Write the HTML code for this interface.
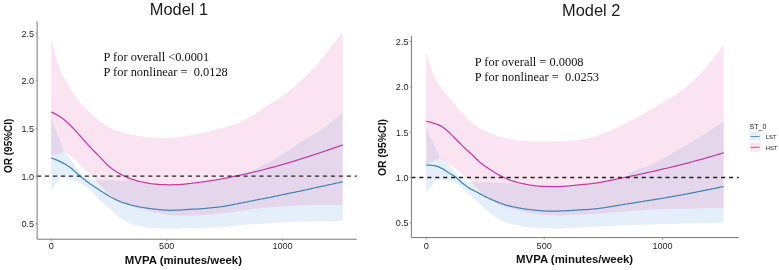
<!DOCTYPE html>
<html><head><meta charset="utf-8"><title>Model 1 / Model 2</title>
<style>
html,body{margin:0;padding:0;background:#fff;}
body{width:779px;height:270px;overflow:hidden;}
svg{display:block;will-change:transform;}
text{font-family:"Liberation Sans",sans-serif;fill:#222;}
.tk{font-size:9.1px;fill:#2a2a2a;}
.title{font-size:16.4px;fill:#1a1a1a;}
.ann{font-family:"Liberation Serif",serif;font-size:12.4px;fill:#111;}
.axl{font-size:11.4px;font-weight:bold;fill:#111;}
.ayl{font-size:10px;font-weight:bold;fill:#111;}
.lgt{font-size:7px;fill:#222;}
.lgl{font-size:5.8px;fill:#222;}
</style></head><body>
<svg width="779" height="270" viewBox="0 0 779 270">
<rect width="779" height="270" fill="#fff"/>
<!-- left -->
<path d="M51.2,118.3 L52.2,120.9 L53.2,123.5 L54.2,126.1 L55.2,128.7 L56.2,131.3 L57.2,134.0 L58.2,136.6 L59.2,139.2 L60.2,141.8 L61.2,144.4 L62.2,147.0 L63.2,149.6 L64.0,151.7 L64.0,151.7 L65.0,152.6 L66.0,153.7 L67.0,154.7 L68.0,155.9 L69.0,157.1 L70.0,158.3 L71.0,159.7 L72.0,161.1 L73.0,162.7 L74.0,164.3 L75.0,165.9 L76.0,167.4 L77.0,168.7 L78.0,170.0 L79.0,171.3 L80.0,172.6 L81.0,173.7 L82.0,174.8 L83.0,175.6 L84.0,176.2 L85.0,176.8 L86.0,177.3 L87.0,177.8 L88.0,178.2 L89.0,178.5 L90.0,178.8 L91.0,179.0 L92.0,179.3 L93.0,179.5 L94.0,179.7 L95.0,179.8 L96.0,179.9 L97.0,180.0 L98.0,180.1 L99.0,180.2 L100.0,180.2 L101.0,180.3 L102.0,180.3 L103.0,180.4 L104.0,180.4 L105.0,180.5 L106.0,180.5 L107.0,180.5 L108.0,180.6 L109.0,180.6 L110.0,180.6 L111.0,180.6 L112.0,180.6 L113.0,180.6 L114.0,180.6 L115.0,180.7 L116.0,180.7 L117.0,180.7 L118.0,180.7 L119.0,180.7 L120.0,180.7 L121.0,180.7 L122.0,180.7 L123.0,180.7 L124.0,180.7 L125.0,180.7 L126.0,180.7 L127.0,180.7 L128.0,180.7 L129.0,180.7 L130.0,180.7 L131.0,180.7 L132.0,180.7 L133.0,180.7 L134.0,180.7 L135.0,180.7 L136.0,180.7 L137.0,180.7 L138.0,181.0 L139.0,181.3 L140.0,181.5 L141.0,181.7 L142.0,182.0 L143.0,182.2 L144.0,182.4 L145.0,182.6 L146.0,182.8 L147.0,183.0 L148.0,183.2 L149.0,183.4 L150.0,183.5 L151.0,183.6 L152.0,183.8 L153.0,183.9 L154.0,184.0 L155.0,184.1 L156.0,184.2 L157.0,184.3 L158.0,184.4 L159.0,184.4 L160.0,184.5 L161.0,184.5 L162.0,184.6 L163.0,184.6 L164.0,184.7 L165.0,184.7 L166.0,184.7 L167.0,184.8 L168.0,184.8 L169.0,184.8 L170.0,184.8 L171.0,184.8 L172.0,184.8 L173.0,184.8 L174.0,184.7 L175.0,184.7 L176.0,184.7 L177.0,184.6 L178.0,184.6 L179.0,184.5 L180.0,184.5 L181.0,184.4 L182.0,184.4 L183.0,184.3 L184.0,184.2 L185.0,184.1 L186.0,184.0 L187.0,183.9 L188.0,183.7 L189.0,183.6 L190.0,183.5 L191.0,183.4 L192.0,183.3 L193.0,183.1 L194.0,183.0 L195.0,182.9 L196.0,182.7 L197.0,182.6 L198.0,182.5 L199.0,182.3 L200.0,182.2 L201.0,182.1 L202.0,181.9 L203.0,181.8 L204.0,181.7 L205.0,181.5 L206.0,181.4 L207.0,181.2 L208.0,181.1 L209.0,180.9 L210.0,180.8 L211.0,180.7 L212.0,180.5 L213.0,180.3 L214.0,180.2 L215.0,180.0 L216.0,179.9 L217.0,179.8 L218.0,179.7 L219.0,179.7 L220.0,179.6 L221.0,179.5 L222.0,179.4 L223.0,179.3 L224.0,179.2 L225.0,179.0 L226.0,178.8 L227.0,178.6 L228.0,178.4 L229.0,178.2 L230.0,178.0 L231.0,177.7 L232.0,177.5 L233.0,177.2 L234.0,177.0 L235.0,176.7 L236.0,176.5 L237.0,176.2 L238.0,176.0 L239.0,175.7 L240.0,175.4 L241.0,175.1 L242.0,174.7 L243.0,174.5 L244.0,174.3 L245.0,174.1 L246.0,173.8 L247.0,173.6 L248.0,173.4 L249.0,173.2 L250.0,173.0 L251.0,172.7 L252.0,172.5 L253.0,170.3 L254.0,169.8 L255.0,169.3 L256.0,168.8 L257.0,168.3 L258.0,167.8 L259.0,167.2 L260.0,166.7 L261.0,166.2 L262.0,165.7 L263.0,165.2 L264.0,164.7 L265.0,164.2 L266.0,163.7 L267.0,163.2 L268.0,162.7 L269.0,162.2 L270.0,161.7 L271.0,161.2 L272.0,160.7 L273.0,160.2 L274.0,159.7 L275.0,159.1 L276.0,158.6 L277.0,158.0 L278.0,157.4 L279.0,156.8 L280.0,156.2 L281.0,155.6 L282.0,155.0 L283.0,154.4 L284.0,153.7 L285.0,153.1 L286.0,152.4 L287.0,151.8 L288.0,151.1 L289.0,150.4 L290.0,149.7 L291.0,149.0 L292.0,148.3 L293.0,147.6 L294.0,146.8 L295.0,146.0 L296.0,145.2 L297.0,144.4 L298.0,143.6 L299.0,142.9 L300.0,142.2 L301.0,141.6 L302.0,140.9 L303.0,140.4 L304.0,139.8 L305.0,139.3 L306.0,138.7 L307.0,138.2 L308.0,137.7 L309.0,137.2 L310.0,136.6 L311.0,136.1 L312.0,135.5 L313.0,135.0 L314.0,134.4 L315.0,133.8 L316.0,133.1 L317.0,132.5 L318.0,131.8 L319.0,131.2 L320.0,130.5 L321.0,129.8 L322.0,129.1 L323.0,128.4 L324.0,127.7 L325.0,127.0 L326.0,126.2 L327.0,125.5 L328.0,124.7 L329.0,124.0 L330.0,123.2 L331.0,122.4 L332.0,121.6 L333.0,120.8 L334.0,120.0 L335.0,119.1 L336.0,118.3 L337.0,117.4 L338.0,116.5 L339.0,115.7 L340.0,114.8 L341.0,113.9 L342.0,112.9 L342.7,112.3 L342.7,220.8 L342.5,220.8 L341.5,220.8 L340.5,220.8 L339.5,220.9 L338.5,220.9 L337.5,220.9 L336.5,220.9 L335.5,220.9 L334.5,220.9 L333.5,221.0 L332.5,221.0 L331.5,221.0 L330.5,221.0 L329.5,221.0 L328.5,221.0 L327.5,221.1 L326.5,221.1 L325.5,221.1 L324.5,221.1 L323.5,221.1 L322.5,221.2 L321.5,221.2 L320.5,221.2 L319.5,221.2 L318.5,221.2 L317.5,221.2 L316.5,221.3 L315.5,221.3 L314.5,221.3 L313.5,221.3 L312.5,221.3 L311.5,221.3 L310.5,221.4 L309.5,221.4 L308.5,221.4 L307.5,221.4 L306.5,221.4 L305.5,221.4 L304.5,221.5 L303.5,221.5 L302.5,221.5 L301.5,221.6 L300.5,221.6 L299.5,221.6 L298.5,221.7 L297.5,221.7 L296.5,221.7 L295.5,221.8 L294.5,221.8 L293.5,221.9 L292.5,221.9 L291.5,222.0 L290.5,222.0 L289.5,222.1 L288.5,222.1 L287.5,222.2 L286.5,222.2 L285.5,222.3 L284.5,222.3 L283.5,222.4 L282.5,222.4 L281.5,222.5 L280.5,222.5 L279.5,222.6 L278.5,222.7 L277.5,222.7 L276.5,222.8 L275.5,222.9 L274.5,222.9 L273.5,223.0 L272.5,223.0 L271.5,223.1 L270.5,223.2 L269.5,223.2 L268.5,223.3 L267.5,223.3 L266.5,223.4 L265.5,223.5 L264.5,223.5 L263.5,223.6 L262.5,223.6 L261.5,223.7 L260.5,223.8 L259.5,223.8 L258.5,223.9 L257.5,223.9 L256.5,224.0 L255.5,224.1 L254.5,224.1 L253.5,224.2 L252.5,224.3 L251.5,224.3 L250.5,224.4 L249.5,224.5 L248.5,224.5 L247.5,224.6 L246.5,224.7 L245.5,224.8 L244.5,224.8 L243.5,224.9 L242.5,225.0 L241.5,225.1 L240.5,225.2 L239.5,225.3 L238.5,225.3 L237.5,225.4 L236.5,225.5 L235.5,225.6 L234.5,225.7 L233.5,225.8 L232.5,225.9 L231.5,226.0 L230.5,226.2 L229.5,226.3 L228.5,226.4 L227.5,226.5 L226.5,226.6 L225.5,226.7 L224.5,226.8 L223.5,226.9 L222.5,227.0 L221.5,227.1 L220.5,227.2 L219.5,227.2 L218.5,227.3 L217.5,227.3 L216.5,227.4 L215.5,227.5 L214.5,227.5 L213.5,227.6 L212.5,227.6 L211.5,227.6 L210.5,227.7 L209.5,227.7 L208.5,227.7 L207.5,227.8 L206.5,227.8 L205.5,227.8 L204.5,227.9 L203.5,227.9 L202.5,227.9 L201.5,227.9 L200.5,227.9 L199.5,227.9 L198.5,227.9 L197.5,228.0 L196.5,228.0 L195.5,228.0 L194.5,228.0 L193.5,228.0 L192.5,228.0 L191.5,228.1 L190.5,228.1 L189.5,228.1 L188.5,228.1 L187.5,228.2 L186.5,228.2 L185.5,228.3 L184.5,228.3 L183.5,228.4 L182.5,228.5 L181.5,228.5 L180.5,228.6 L179.5,228.6 L178.5,228.7 L177.5,228.7 L176.5,228.7 L175.5,228.8 L174.5,228.8 L173.5,228.8 L172.5,228.8 L171.5,228.8 L170.5,228.8 L169.5,228.8 L168.5,228.7 L167.5,228.7 L166.5,228.7 L165.5,228.6 L164.5,228.6 L163.5,228.5 L162.5,228.5 L161.5,228.5 L160.5,228.4 L159.5,228.4 L158.5,228.3 L157.5,228.3 L156.5,228.2 L155.5,228.2 L154.5,228.1 L153.5,228.1 L152.5,228.0 L151.5,227.9 L150.5,227.8 L149.5,227.8 L148.5,227.6 L147.5,227.5 L146.5,227.4 L145.5,227.2 L144.5,227.0 L143.5,226.8 L142.5,226.6 L141.5,226.4 L140.5,226.2 L139.5,226.0 L138.5,225.8 L137.5,225.6 L136.5,225.3 L135.5,225.1 L134.5,224.8 L133.5,224.5 L132.5,224.2 L131.5,223.9 L130.5,223.6 L129.5,223.2 L128.5,222.8 L127.5,222.4 L126.5,221.9 L125.5,221.4 L124.5,220.8 L123.5,220.2 L122.5,219.6 L121.5,219.0 L120.5,218.3 L119.5,217.6 L118.5,216.8 L117.5,216.0 L116.5,215.0 L115.5,214.1 L114.5,213.1 L113.5,212.2 L112.5,211.3 L111.5,210.4 L110.5,209.6 L109.5,208.7 L108.5,207.9 L107.5,207.0 L106.5,206.1 L105.5,205.2 L104.5,204.3 L103.5,203.5 L102.5,202.6 L101.5,201.6 L100.5,200.7 L99.5,199.8 L98.5,198.8 L97.5,197.8 L96.5,196.7 L95.5,195.5 L94.5,194.4 L93.5,193.2 L92.5,192.1 L91.5,191.0 L90.5,190.1 L89.5,189.3 L88.5,188.6 L87.5,187.9 L86.5,187.2 L85.5,186.6 L84.5,186.0 L83.5,185.4 L82.5,184.8 L81.5,184.3 L80.5,183.8 L79.5,183.2 L78.5,182.7 L77.5,182.3 L76.5,181.8 L75.5,181.4 L74.5,181.0 L73.5,180.6 L72.5,180.2 L71.5,179.8 L70.5,179.5 L69.5,179.2 L68.5,178.8 L67.5,178.6 L66.5,178.3 L65.5,178.1 L64.5,177.9 L63.5,177.7 L62.5,177.6 L61.5,177.4 L60.5,177.3 L60.5,177.3 L60.2,177.7 L59.2,179.1 L58.2,180.4 L57.2,181.8 L56.2,183.2 L55.2,184.5 L54.2,185.9 L53.2,187.3 L52.2,188.6 L51.2,190.0Z" fill="#2f82cd" fill-opacity="0.125"/>
<path d="M51.2,36.7 L52.2,41.7 L53.2,46.3 L54.2,50.5 L55.2,54.5 L56.2,58.1 L57.2,61.6 L58.2,64.7 L59.2,67.4 L60.2,69.9 L61.2,72.3 L62.2,74.4 L63.2,76.4 L64.2,78.2 L65.2,79.9 L66.2,81.6 L67.2,83.2 L68.2,84.8 L69.2,86.5 L70.2,88.2 L71.2,89.9 L72.2,91.5 L73.2,93.1 L74.2,94.6 L75.2,96.1 L76.2,97.4 L77.2,98.8 L78.2,100.1 L79.2,101.3 L80.2,102.5 L81.2,103.7 L82.2,104.8 L83.2,105.9 L84.2,107.0 L85.2,108.0 L86.2,109.0 L87.2,109.9 L88.2,110.9 L89.2,111.8 L90.2,112.7 L91.2,113.6 L92.2,114.5 L93.2,115.3 L94.2,116.2 L95.2,117.1 L96.2,117.9 L97.2,118.7 L98.2,119.6 L99.2,120.4 L100.2,121.2 L101.2,122.0 L102.2,122.8 L103.2,123.6 L104.2,124.3 L105.2,125.0 L106.2,125.7 L107.2,126.3 L108.2,126.9 L109.2,127.4 L110.2,127.9 L111.2,128.4 L112.2,128.9 L113.2,129.3 L114.2,129.8 L115.2,130.2 L116.2,130.5 L117.2,130.9 L118.2,131.2 L119.2,131.5 L120.2,131.8 L121.2,132.1 L122.2,132.4 L123.2,132.7 L124.2,133.0 L125.2,133.2 L126.2,133.5 L127.2,133.7 L128.2,134.0 L129.2,134.2 L130.2,134.4 L131.2,134.6 L132.2,134.8 L133.2,135.0 L134.2,135.2 L135.2,135.3 L136.2,135.5 L137.2,135.7 L138.2,135.9 L139.2,136.0 L140.2,136.2 L141.2,136.4 L142.2,136.5 L143.2,136.6 L144.2,136.8 L145.2,136.9 L146.2,137.0 L147.2,137.1 L148.2,137.2 L149.2,137.3 L150.2,137.3 L151.2,137.4 L152.2,137.4 L153.2,137.5 L154.2,137.5 L155.2,137.5 L156.2,137.6 L157.2,137.6 L158.2,137.6 L159.2,137.7 L160.2,137.7 L161.2,137.7 L162.2,137.8 L163.2,137.8 L164.2,137.8 L165.2,137.8 L166.2,137.8 L167.2,137.8 L168.2,137.8 L169.2,137.8 L170.2,137.7 L171.2,137.7 L172.2,137.6 L173.2,137.5 L174.2,137.5 L175.2,137.4 L176.2,137.3 L177.2,137.2 L178.2,137.1 L179.2,137.0 L180.2,136.8 L181.2,136.7 L182.2,136.6 L183.2,136.5 L184.2,136.4 L185.2,136.3 L186.2,136.1 L187.2,136.0 L188.2,135.8 L189.2,135.6 L190.2,135.4 L191.2,135.2 L192.2,135.0 L193.2,134.8 L194.2,134.6 L195.2,134.4 L196.2,134.1 L197.2,133.9 L198.2,133.7 L199.2,133.5 L200.2,133.3 L201.2,133.0 L202.2,132.8 L203.2,132.6 L204.2,132.4 L205.2,132.1 L206.2,131.9 L207.2,131.7 L208.2,131.4 L209.2,131.2 L210.2,130.9 L211.2,130.7 L212.2,130.4 L213.2,130.2 L214.2,129.9 L215.2,129.7 L216.2,129.4 L217.2,129.2 L218.2,128.9 L219.2,128.7 L220.2,128.4 L221.2,128.2 L222.2,127.9 L223.2,127.6 L224.2,127.4 L225.2,127.1 L226.2,126.8 L227.2,126.5 L228.2,126.2 L229.2,125.9 L230.2,125.6 L231.2,125.3 L232.2,125.0 L233.2,124.6 L234.2,124.3 L235.2,123.9 L236.2,123.5 L237.2,123.1 L238.2,122.7 L239.2,122.2 L240.2,121.8 L241.2,121.3 L242.2,120.9 L243.2,120.4 L244.2,119.9 L245.2,119.4 L246.2,118.9 L247.2,118.3 L248.2,117.8 L249.2,117.3 L250.2,116.7 L251.2,116.2 L252.2,115.6 L253.2,115.1 L254.2,114.5 L255.2,113.9 L256.2,113.3 L257.2,112.6 L258.2,112.0 L259.2,111.3 L260.2,110.6 L261.2,109.9 L262.2,109.2 L263.2,108.5 L264.2,107.8 L265.2,107.2 L266.2,106.5 L267.2,105.8 L268.2,105.1 L269.2,104.5 L270.2,103.9 L271.2,103.3 L272.2,102.7 L273.2,102.1 L274.2,101.5 L275.2,100.9 L276.2,100.3 L277.2,99.7 L278.2,99.0 L279.2,98.3 L280.2,97.6 L281.2,96.9 L282.2,96.1 L283.2,95.4 L284.2,94.6 L285.2,93.8 L286.2,93.0 L287.2,92.3 L288.2,91.5 L289.2,90.6 L290.2,89.8 L291.2,89.0 L292.2,88.2 L293.2,87.3 L294.2,86.5 L295.2,85.6 L296.2,84.7 L297.2,83.9 L298.2,83.0 L299.2,82.1 L300.2,81.2 L301.2,80.2 L302.2,79.3 L303.2,78.4 L304.2,77.5 L305.2,76.5 L306.2,75.6 L307.2,74.6 L308.2,73.7 L309.2,72.7 L310.2,71.7 L311.2,70.8 L312.2,69.8 L313.2,68.7 L314.2,67.7 L315.2,66.6 L316.2,65.6 L317.2,64.4 L318.2,63.3 L319.2,62.1 L320.2,60.9 L321.2,59.7 L322.2,58.4 L323.2,57.2 L324.2,55.9 L325.2,54.6 L326.2,53.3 L327.2,52.0 L328.2,50.7 L329.2,49.3 L330.2,48.0 L331.2,46.7 L332.2,45.4 L333.2,44.1 L334.2,42.7 L335.2,41.4 L336.2,40.0 L337.2,38.7 L338.2,37.3 L339.2,35.9 L340.2,34.5 L341.2,33.1 L342.2,31.7 L342.7,31.0 L342.7,205.0 L342.0,205.0 L341.0,205.0 L340.0,205.0 L339.0,205.0 L338.0,205.0 L337.0,205.0 L336.0,205.0 L335.0,205.0 L334.0,205.0 L333.0,205.0 L332.0,205.0 L331.0,205.0 L330.0,205.0 L329.0,205.0 L328.0,205.0 L327.0,205.0 L326.0,205.0 L325.0,205.0 L324.0,205.0 L323.0,205.0 L322.0,205.0 L321.0,205.0 L320.0,205.0 L319.0,205.0 L318.0,205.0 L317.0,205.0 L316.0,205.0 L315.0,205.0 L314.0,205.1 L313.0,205.1 L312.0,205.1 L311.0,205.1 L310.0,205.1 L309.0,205.2 L308.0,205.2 L307.0,205.2 L306.0,205.2 L305.0,205.3 L304.0,205.3 L303.0,205.3 L302.0,205.3 L301.0,205.4 L300.0,205.4 L299.0,205.4 L298.0,205.5 L297.0,205.5 L296.0,205.5 L295.0,205.6 L294.0,205.6 L293.0,205.7 L292.0,205.7 L291.0,205.8 L290.0,205.8 L289.0,205.9 L288.0,205.9 L287.0,206.0 L286.0,206.0 L285.0,206.1 L284.0,206.2 L283.0,206.2 L282.0,206.3 L281.0,206.4 L280.0,206.4 L279.0,206.5 L278.0,206.6 L277.0,206.7 L276.0,206.8 L275.0,206.9 L274.0,206.9 L273.0,207.0 L272.0,207.1 L271.0,207.2 L270.0,207.3 L269.0,207.4 L268.0,207.5 L267.0,207.6 L266.0,207.7 L265.0,207.8 L264.0,207.9 L263.0,207.9 L262.0,208.0 L261.0,208.1 L260.0,208.2 L259.0,208.4 L258.0,208.5 L257.0,208.6 L256.0,208.7 L255.0,208.8 L254.0,208.9 L253.0,209.0 L252.0,209.2 L251.0,209.3 L250.0,209.4 L249.0,209.6 L248.0,209.7 L247.0,209.9 L246.0,210.1 L245.0,210.2 L244.0,210.4 L243.0,210.5 L242.0,210.7 L241.0,210.9 L240.0,211.0 L239.0,211.2 L238.0,211.3 L237.0,211.5 L236.0,211.6 L235.0,211.7 L234.0,211.9 L233.0,212.0 L232.0,212.1 L231.0,212.2 L230.0,212.4 L229.0,212.5 L228.0,212.6 L227.0,212.7 L226.0,212.8 L225.0,213.0 L224.0,213.1 L223.0,213.2 L222.0,213.3 L221.0,213.4 L220.0,213.5 L219.0,213.6 L218.0,213.7 L217.0,213.8 L216.0,213.9 L215.0,214.0 L214.0,214.1 L213.0,214.2 L212.0,214.3 L211.0,214.4 L210.0,214.5 L209.0,214.5 L208.0,214.6 L207.0,214.7 L206.0,214.7 L205.0,214.8 L204.0,214.9 L203.0,215.0 L202.0,215.0 L201.0,215.1 L200.0,215.2 L199.0,215.2 L198.0,215.3 L197.0,215.4 L196.0,215.4 L195.0,215.5 L194.0,215.5 L193.0,215.6 L192.0,215.6 L191.0,215.6 L190.0,215.6 L189.0,215.6 L188.0,215.6 L187.0,215.6 L186.0,215.6 L185.0,215.6 L184.0,215.6 L183.0,215.5 L182.0,215.5 L181.0,215.5 L180.0,215.5 L179.0,215.5 L178.0,215.4 L177.0,215.4 L176.0,215.4 L175.0,215.4 L174.0,215.3 L173.0,215.3 L172.0,215.2 L171.0,215.2 L170.0,215.1 L169.0,215.0 L168.0,214.8 L167.0,214.7 L166.0,214.5 L165.0,214.4 L164.0,214.2 L163.0,214.0 L162.0,213.8 L161.0,213.7 L160.0,213.5 L159.0,213.3 L158.0,213.1 L157.0,212.9 L156.0,212.7 L155.0,212.5 L154.0,212.3 L153.0,212.0 L152.0,211.8 L151.0,211.5 L150.0,211.3 L149.0,211.1 L148.0,210.8 L147.0,210.6 L146.0,210.3 L145.0,210.1 L144.0,209.8 L143.0,209.5 L142.0,209.3 L141.0,209.0 L140.0,208.7 L139.0,208.4 L138.0,208.1 L137.0,207.9 L136.0,207.6 L135.0,207.3 L134.0,207.0 L133.0,206.6 L132.0,206.3 L131.0,206.0 L130.0,205.6 L129.0,205.2 L128.0,204.9 L127.0,204.5 L126.0,204.1 L125.0,203.7 L124.0,203.2 L123.0,202.8 L122.0,202.3 L121.0,201.8 L120.0,201.3 L119.0,200.8 L118.0,200.2 L117.0,199.6 L116.0,199.0 L115.0,198.4 L114.0,197.7 L113.0,197.0 L112.0,196.3 L111.0,195.6 L110.0,194.8 L109.0,193.9 L108.0,193.1 L107.0,192.3 L106.0,191.4 L105.0,190.5 L104.0,189.6 L103.0,188.6 L102.0,187.6 L101.0,186.6 L100.0,185.5 L99.0,184.3 L98.0,182.9 L97.0,181.5 L96.0,180.2 L95.0,179.0 L94.0,177.9 L93.0,176.9 L92.0,176.0 L91.0,175.1 L90.0,174.2 L89.0,173.3 L88.0,172.5 L87.0,171.6 L86.0,170.7 L85.0,169.9 L84.0,169.0 L83.0,168.0 L82.0,167.0 L81.0,166.0 L80.0,164.9 L79.0,163.9 L78.0,162.8 L77.0,161.8 L76.0,160.8 L75.0,159.8 L74.0,158.9 L73.0,158.1 L72.0,157.2 L71.0,156.5 L70.0,155.7 L69.0,155.0 L68.0,154.2 L67.0,153.6 L66.0,152.9 L65.0,152.3 L64.0,151.7 L64.0,151.7 L63.2,152.0 L62.2,152.3 L61.2,152.6 L60.2,153.0 L59.2,153.3 L58.2,153.6 L57.2,154.0 L56.2,154.3 L55.2,154.7 L54.2,155.0 L53.2,155.3 L52.2,155.7 L51.2,156.0Z" fill="#de3793" fill-opacity="0.135"/>
<path d="M51.2,158.0 L52.2,158.3 L53.2,158.6 L54.2,159.0 L55.2,159.4 L56.2,159.8 L57.2,160.2 L58.2,160.6 L59.2,161.1 L60.2,161.6 L61.2,162.1 L62.2,162.6 L63.2,163.1 L64.2,163.6 L65.2,164.2 L66.2,164.8 L67.2,165.5 L68.2,166.1 L69.2,166.8 L70.2,167.5 L71.2,168.3 L72.2,169.1 L73.2,170.0 L74.2,170.9 L75.2,171.8 L76.2,172.7 L77.2,173.6 L78.2,174.4 L79.2,175.2 L80.2,176.1 L81.2,176.9 L82.2,177.7 L83.2,178.5 L84.2,179.4 L85.2,180.1 L86.2,180.9 L87.2,181.7 L88.2,182.4 L89.2,183.1 L90.2,183.9 L91.2,184.6 L92.2,185.2 L93.2,185.9 L94.2,186.6 L95.2,187.3 L96.2,187.9 L97.2,188.6 L98.2,189.2 L99.2,189.9 L100.2,190.5 L101.2,191.2 L102.2,191.8 L103.2,192.5 L104.2,193.1 L105.2,193.7 L106.2,194.4 L107.2,195.0 L108.2,195.6 L109.2,196.2 L110.2,196.7 L111.2,197.3 L112.2,197.8 L113.2,198.3 L114.2,198.8 L115.2,199.4 L116.2,199.8 L117.2,200.3 L118.2,200.8 L119.2,201.2 L120.2,201.6 L121.2,202.0 L122.2,202.3 L123.2,202.7 L124.2,203.0 L125.2,203.3 L126.2,203.6 L127.2,203.9 L128.2,204.2 L129.2,204.5 L130.2,204.8 L131.2,205.0 L132.2,205.3 L133.2,205.5 L134.2,205.8 L135.2,206.0 L136.2,206.2 L137.2,206.4 L138.2,206.7 L139.2,206.9 L140.2,207.0 L141.2,207.2 L142.2,207.4 L143.2,207.5 L144.2,207.7 L145.2,207.8 L146.2,208.0 L147.2,208.1 L148.2,208.3 L149.2,208.4 L150.2,208.5 L151.2,208.7 L152.2,208.8 L153.2,208.9 L154.2,209.1 L155.2,209.2 L156.2,209.3 L157.2,209.4 L158.2,209.5 L159.2,209.6 L160.2,209.7 L161.2,209.8 L162.2,209.9 L163.2,210.0 L164.2,210.0 L165.2,210.1 L166.2,210.2 L167.2,210.2 L168.2,210.3 L169.2,210.3 L170.2,210.3 L171.2,210.3 L172.2,210.3 L173.2,210.3 L174.2,210.2 L175.2,210.2 L176.2,210.2 L177.2,210.1 L178.2,210.1 L179.2,210.0 L180.2,210.0 L181.2,209.9 L182.2,209.9 L183.2,209.8 L184.2,209.7 L185.2,209.6 L186.2,209.6 L187.2,209.5 L188.2,209.4 L189.2,209.3 L190.2,209.3 L191.2,209.2 L192.2,209.2 L193.2,209.2 L194.2,209.1 L195.2,209.1 L196.2,209.1 L197.2,209.0 L198.2,209.0 L199.2,208.9 L200.2,208.9 L201.2,208.8 L202.2,208.7 L203.2,208.6 L204.2,208.5 L205.2,208.4 L206.2,208.3 L207.2,208.2 L208.2,208.1 L209.2,208.0 L210.2,207.9 L211.2,207.8 L212.2,207.7 L213.2,207.6 L214.2,207.5 L215.2,207.4 L216.2,207.3 L217.2,207.2 L218.2,207.1 L219.2,207.0 L220.2,206.9 L221.2,206.7 L222.2,206.6 L223.2,206.4 L224.2,206.3 L225.2,206.1 L226.2,205.9 L227.2,205.7 L228.2,205.6 L229.2,205.4 L230.2,205.2 L231.2,205.0 L232.2,204.8 L233.2,204.6 L234.2,204.4 L235.2,204.2 L236.2,204.0 L237.2,203.8 L238.2,203.6 L239.2,203.4 L240.2,203.2 L241.2,203.0 L242.2,202.8 L243.2,202.6 L244.2,202.4 L245.2,202.2 L246.2,202.0 L247.2,201.8 L248.2,201.6 L249.2,201.4 L250.2,201.2 L251.2,201.0 L252.2,200.8 L253.2,200.6 L254.2,200.4 L255.2,200.2 L256.2,200.0 L257.2,199.8 L258.2,199.6 L259.2,199.4 L260.2,199.2 L261.2,199.0 L262.2,198.9 L263.2,198.7 L264.2,198.5 L265.2,198.3 L266.2,198.1 L267.2,197.9 L268.2,197.7 L269.2,197.5 L270.2,197.3 L271.2,197.1 L272.2,196.8 L273.2,196.6 L274.2,196.4 L275.2,196.2 L276.2,196.0 L277.2,195.8 L278.2,195.6 L279.2,195.4 L280.2,195.2 L281.2,195.0 L282.2,194.7 L283.2,194.5 L284.2,194.3 L285.2,194.1 L286.2,193.9 L287.2,193.7 L288.2,193.5 L289.2,193.3 L290.2,193.1 L291.2,192.9 L292.2,192.7 L293.2,192.5 L294.2,192.3 L295.2,192.1 L296.2,191.9 L297.2,191.7 L298.2,191.5 L299.2,191.3 L300.2,191.1 L301.2,190.8 L302.2,190.6 L303.2,190.4 L304.2,190.2 L305.2,190.0 L306.2,189.8 L307.2,189.6 L308.2,189.3 L309.2,189.1 L310.2,188.9 L311.2,188.7 L312.2,188.4 L313.2,188.2 L314.2,188.0 L315.2,187.8 L316.2,187.5 L317.2,187.3 L318.2,187.1 L319.2,186.9 L320.2,186.7 L321.2,186.4 L322.2,186.2 L323.2,186.0 L324.2,185.8 L325.2,185.6 L326.2,185.3 L327.2,185.1 L328.2,184.9 L329.2,184.7 L330.2,184.5 L331.2,184.3 L332.2,184.0 L333.2,183.8 L334.2,183.6 L335.2,183.4 L336.2,183.2 L337.2,183.0 L338.2,182.8 L339.2,182.5 L340.2,182.3 L341.2,182.1 L342.2,181.9 L342.7,181.8" fill="none" stroke="#3f86b6" stroke-width="1.25"/>
<path d="M51.2,112.0 L52.2,112.4 L53.2,112.9 L54.2,113.3 L55.2,113.9 L56.2,114.4 L57.2,115.0 L58.2,115.6 L59.2,116.2 L60.2,116.8 L61.2,117.5 L62.2,118.2 L63.2,119.0 L64.2,119.8 L65.2,120.7 L66.2,121.5 L67.2,122.4 L68.2,123.3 L69.2,124.3 L70.2,125.2 L71.2,126.2 L72.2,127.2 L73.2,128.2 L74.2,129.3 L75.2,130.4 L76.2,131.5 L77.2,132.7 L78.2,133.8 L79.2,134.9 L80.2,136.0 L81.2,137.1 L82.2,138.2 L83.2,139.4 L84.2,140.5 L85.2,141.6 L86.2,142.7 L87.2,143.8 L88.2,144.9 L89.2,146.0 L90.2,147.0 L91.2,148.1 L92.2,149.1 L93.2,150.2 L94.2,151.2 L95.2,152.3 L96.2,153.3 L97.2,154.3 L98.2,155.4 L99.2,156.4 L100.2,157.4 L101.2,158.4 L102.2,159.5 L103.2,160.6 L104.2,161.6 L105.2,162.7 L106.2,163.7 L107.2,164.7 L108.2,165.7 L109.2,166.5 L110.2,167.4 L111.2,168.1 L112.2,168.9 L113.2,169.6 L114.2,170.3 L115.2,170.9 L116.2,171.6 L117.2,172.2 L118.2,172.8 L119.2,173.4 L120.2,173.9 L121.2,174.5 L122.2,175.0 L123.2,175.5 L124.2,176.0 L125.2,176.5 L126.2,176.9 L127.2,177.4 L128.2,177.8 L129.2,178.2 L130.2,178.6 L131.2,178.9 L132.2,179.3 L133.2,179.6 L134.2,179.9 L135.2,180.2 L136.2,180.5 L137.2,180.8 L138.2,181.1 L139.2,181.3 L140.2,181.5 L141.2,181.8 L142.2,182.0 L143.2,182.2 L144.2,182.5 L145.2,182.7 L146.2,182.9 L147.2,183.1 L148.2,183.2 L149.2,183.4 L150.2,183.5 L151.2,183.7 L152.2,183.8 L153.2,183.9 L154.2,184.0 L155.2,184.1 L156.2,184.2 L157.2,184.3 L158.2,184.4 L159.2,184.5 L160.2,184.5 L161.2,184.6 L162.2,184.6 L163.2,184.6 L164.2,184.7 L165.2,184.7 L166.2,184.7 L167.2,184.8 L168.2,184.8 L169.2,184.8 L170.2,184.8 L171.2,184.8 L172.2,184.8 L173.2,184.8 L174.2,184.7 L175.2,184.7 L176.2,184.7 L177.2,184.6 L178.2,184.6 L179.2,184.5 L180.2,184.5 L181.2,184.4 L182.2,184.4 L183.2,184.3 L184.2,184.2 L185.2,184.1 L186.2,183.9 L187.2,183.8 L188.2,183.7 L189.2,183.6 L190.2,183.5 L191.2,183.4 L192.2,183.2 L193.2,183.1 L194.2,183.0 L195.2,182.9 L196.2,182.7 L197.2,182.6 L198.2,182.4 L199.2,182.3 L200.2,182.2 L201.2,182.0 L202.2,181.9 L203.2,181.8 L204.2,181.6 L205.2,181.5 L206.2,181.4 L207.2,181.2 L208.2,181.1 L209.2,180.9 L210.2,180.8 L211.2,180.6 L212.2,180.5 L213.2,180.3 L214.2,180.2 L215.2,180.0 L216.2,179.8 L217.2,179.7 L218.2,179.5 L219.2,179.3 L220.2,179.2 L221.2,179.0 L222.2,178.8 L223.2,178.6 L224.2,178.4 L225.2,178.2 L226.2,178.0 L227.2,177.8 L228.2,177.6 L229.2,177.4 L230.2,177.2 L231.2,177.0 L232.2,176.8 L233.2,176.5 L234.2,176.3 L235.2,176.1 L236.2,175.9 L237.2,175.7 L238.2,175.5 L239.2,175.3 L240.2,175.1 L241.2,174.9 L242.2,174.6 L243.2,174.4 L244.2,174.2 L245.2,174.0 L246.2,173.8 L247.2,173.6 L248.2,173.4 L249.2,173.1 L250.2,172.9 L251.2,172.7 L252.2,172.5 L253.2,172.2 L254.2,172.0 L255.2,171.7 L256.2,171.5 L257.2,171.3 L258.2,171.0 L259.2,170.8 L260.2,170.5 L261.2,170.3 L262.2,170.0 L263.2,169.8 L264.2,169.5 L265.2,169.2 L266.2,169.0 L267.2,168.7 L268.2,168.5 L269.2,168.2 L270.2,167.9 L271.2,167.7 L272.2,167.4 L273.2,167.1 L274.2,166.8 L275.2,166.6 L276.2,166.3 L277.2,166.0 L278.2,165.7 L279.2,165.4 L280.2,165.2 L281.2,164.9 L282.2,164.6 L283.2,164.3 L284.2,164.0 L285.2,163.7 L286.2,163.4 L287.2,163.2 L288.2,162.9 L289.2,162.6 L290.2,162.3 L291.2,162.0 L292.2,161.7 L293.2,161.4 L294.2,161.1 L295.2,160.7 L296.2,160.4 L297.2,160.1 L298.2,159.8 L299.2,159.5 L300.2,159.2 L301.2,158.9 L302.2,158.5 L303.2,158.2 L304.2,157.9 L305.2,157.6 L306.2,157.2 L307.2,156.9 L308.2,156.6 L309.2,156.3 L310.2,155.9 L311.2,155.6 L312.2,155.3 L313.2,155.0 L314.2,154.6 L315.2,154.3 L316.2,154.0 L317.2,153.6 L318.2,153.3 L319.2,153.0 L320.2,152.6 L321.2,152.3 L322.2,152.0 L323.2,151.6 L324.2,151.3 L325.2,151.0 L326.2,150.6 L327.2,150.3 L328.2,149.9 L329.2,149.6 L330.2,149.3 L331.2,148.9 L332.2,148.6 L333.2,148.2 L334.2,147.9 L335.2,147.5 L336.2,147.2 L337.2,146.8 L338.2,146.5 L339.2,146.1 L340.2,145.8 L341.2,145.4 L342.2,145.1 L342.7,144.9" fill="none" stroke="#c13aa4" stroke-width="1.25"/>
<line x1="37.1" y1="176.2" x2="356.7" y2="176.2" stroke="#222" stroke-width="1.3" stroke-dasharray="4.1 3.84"/>
<path d="M37.1,21.4 V239.2 H356.7" fill="none" stroke="#777" stroke-width="1"/>
<line x1="35.5" y1="33.3" x2="37.1" y2="33.3" stroke="#777" stroke-width="0.7"/>
<text x="34.1" y="36.699999999999996" text-anchor="end" class="tk">2.5</text>
<line x1="35.5" y1="81" x2="37.1" y2="81" stroke="#777" stroke-width="0.7"/>
<text x="34.1" y="84.4" text-anchor="end" class="tk">2.0</text>
<line x1="35.5" y1="128.7" x2="37.1" y2="128.7" stroke="#777" stroke-width="0.7"/>
<text x="34.1" y="132.1" text-anchor="end" class="tk">1.5</text>
<line x1="35.5" y1="176.2" x2="37.1" y2="176.2" stroke="#777" stroke-width="0.7"/>
<text x="34.1" y="179.6" text-anchor="end" class="tk">1.0</text>
<line x1="35.5" y1="223.7" x2="37.1" y2="223.7" stroke="#777" stroke-width="0.7"/>
<text x="34.1" y="227.1" text-anchor="end" class="tk">0.5</text>
<line x1="51.2" y1="239.2" x2="51.2" y2="241.2" stroke="#777" stroke-width="0.7"/>
<text x="51.2" y="249.39999999999998" text-anchor="middle" class="tk">0</text>
<line x1="166.7" y1="239.2" x2="166.7" y2="241.2" stroke="#777" stroke-width="0.7"/>
<text x="166.7" y="249.39999999999998" text-anchor="middle" class="tk">500</text>
<line x1="282.5" y1="239.2" x2="282.5" y2="241.2" stroke="#777" stroke-width="0.7"/>
<text x="282.5" y="249.39999999999998" text-anchor="middle" class="tk">1000</text>
<text x="179" y="15" text-anchor="middle" class="title">Model 1</text>
<text x="103.6" y="60.7" class="ann" xml:space="preserve">P for overall &lt;0.0001</text>
<text x="103.6" y="75.7" class="ann" xml:space="preserve">P for nonlinear =  0.0128</text>
<text x="183.4" y="263.9" text-anchor="middle" class="axl">MVPA (minutes/week)</text>
<text transform="translate(11.9,145.8) rotate(-90)" text-anchor="middle" class="ayl">OR (95%CI)</text>
<!-- right -->
<path d="M426.2,127.5 L427.2,129.7 L428.2,131.8 L429.2,134.0 L430.2,136.2 L431.2,138.4 L432.2,140.5 L433.2,142.7 L434.2,144.9 L435.2,147.1 L436.2,149.2 L437.2,151.4 L438.2,153.6 L439.2,155.8 L440.0,157.5 L440.0,157.5 L441.0,157.8 L442.0,158.3 L443.0,158.9 L444.0,159.5 L445.0,160.2 L446.0,161.1 L447.0,162.1 L448.0,163.3 L449.0,164.5 L450.0,165.7 L451.0,166.9 L452.0,168.1 L453.0,169.4 L454.0,170.6 L455.0,171.8 L456.0,173.0 L457.0,174.3 L458.0,175.6 L459.0,176.7 L460.0,177.6 L461.0,178.4 L462.0,179.2 L463.0,179.9 L464.0,180.5 L465.0,180.9 L466.0,181.2 L467.0,181.4 L468.0,181.5 L469.0,181.6 L470.0,181.8 L471.0,181.8 L472.0,181.9 L473.0,182.0 L474.0,182.0 L475.0,182.1 L476.0,182.2 L477.0,182.2 L478.0,182.3 L479.0,182.3 L480.0,182.3 L481.0,182.4 L482.0,182.4 L483.0,182.5 L484.0,182.5 L485.0,182.5 L486.0,182.6 L487.0,182.6 L488.0,182.6 L489.0,182.7 L490.0,182.7 L491.0,182.7 L492.0,182.8 L493.0,182.8 L494.0,182.8 L495.0,182.9 L496.0,182.9 L497.0,182.9 L498.0,182.9 L499.0,183.0 L500.0,183.0 L501.0,183.0 L502.0,183.1 L503.0,183.1 L504.0,183.1 L505.0,183.2 L506.0,183.2 L507.0,183.3 L508.0,183.3 L509.0,183.3 L510.0,183.4 L511.0,183.4 L512.0,183.4 L513.0,183.4 L514.0,183.5 L515.0,183.5 L516.0,183.5 L517.0,183.5 L518.0,183.5 L519.0,183.5 L520.0,183.5 L521.0,183.5 L522.0,183.5 L523.0,183.7 L524.0,183.9 L525.0,184.1 L526.0,184.3 L527.0,184.5 L528.0,184.7 L529.0,184.8 L530.0,185.0 L531.0,185.2 L532.0,185.3 L533.0,185.4 L534.0,185.6 L535.0,185.7 L536.0,185.9 L537.0,186.0 L538.0,186.1 L539.0,186.1 L540.0,186.2 L541.0,186.2 L542.0,186.3 L543.0,186.3 L544.0,186.4 L545.0,186.4 L546.0,186.4 L547.0,186.5 L548.0,186.5 L549.0,186.5 L550.0,186.5 L551.0,186.5 L552.0,186.5 L553.0,186.5 L554.0,186.5 L555.0,186.5 L556.0,186.5 L557.0,186.5 L558.0,186.5 L559.0,186.5 L560.0,186.5 L561.0,186.5 L562.0,186.5 L563.0,186.4 L564.0,186.3 L565.0,186.3 L566.0,186.2 L567.0,186.1 L568.0,186.0 L569.0,185.9 L570.0,185.8 L571.0,185.7 L572.0,185.6 L573.0,185.5 L574.0,185.4 L575.0,185.3 L576.0,185.1 L577.0,185.0 L578.0,184.9 L579.0,184.8 L580.0,184.7 L581.0,184.6 L582.0,184.5 L583.0,184.4 L584.0,184.3 L585.0,184.3 L586.0,184.2 L587.0,184.1 L588.0,184.0 L589.0,183.9 L590.0,183.8 L591.0,183.7 L592.0,183.6 L593.0,183.4 L594.0,183.3 L595.0,183.2 L596.0,183.0 L597.0,182.8 L598.0,182.7 L599.0,182.5 L600.0,182.4 L601.0,182.2 L602.0,182.0 L603.0,181.8 L604.0,181.6 L605.0,181.5 L606.0,181.3 L607.0,181.1 L608.0,180.9 L609.0,180.7 L610.0,180.5 L611.0,180.3 L612.0,180.1 L613.0,179.9 L614.0,179.7 L615.0,179.5 L616.0,179.2 L617.0,179.0 L618.0,178.8 L619.0,178.6 L620.0,178.4 L621.0,178.2 L622.0,178.0 L623.0,177.8 L624.0,177.6 L625.0,177.4 L626.0,177.2 L627.0,177.0 L628.0,176.8 L629.0,172.7 L630.0,172.4 L631.0,172.0 L632.0,171.7 L633.0,171.4 L634.0,171.0 L635.0,170.7 L636.0,170.3 L637.0,170.0 L638.0,169.6 L639.0,169.3 L640.0,168.9 L641.0,168.6 L642.0,168.3 L643.0,167.9 L644.0,167.5 L645.0,167.2 L646.0,166.8 L647.0,166.4 L648.0,166.0 L649.0,165.6 L650.0,165.2 L651.0,164.8 L652.0,164.3 L653.0,163.8 L654.0,163.3 L655.0,162.8 L656.0,162.3 L657.0,161.7 L658.0,161.2 L659.0,160.6 L660.0,160.1 L661.0,159.5 L662.0,159.0 L663.0,158.4 L664.0,157.8 L665.0,157.3 L666.0,156.7 L667.0,156.2 L668.0,155.6 L669.0,155.1 L670.0,154.5 L671.0,153.9 L672.0,153.4 L673.0,152.8 L674.0,152.2 L675.0,151.7 L676.0,151.1 L677.0,150.5 L678.0,149.9 L679.0,149.4 L680.0,148.8 L681.0,148.2 L682.0,147.7 L683.0,147.1 L684.0,146.5 L685.0,145.9 L686.0,145.4 L687.0,144.8 L688.0,144.2 L689.0,143.6 L690.0,143.1 L691.0,142.5 L692.0,141.9 L693.0,141.3 L694.0,140.7 L695.0,140.1 L696.0,139.5 L697.0,138.8 L698.0,138.2 L699.0,137.6 L700.0,136.9 L701.0,136.3 L702.0,135.6 L703.0,135.0 L704.0,134.3 L705.0,133.6 L706.0,133.0 L707.0,132.3 L708.0,131.7 L709.0,131.0 L710.0,130.3 L711.0,129.7 L712.0,129.0 L713.0,128.4 L714.0,127.7 L715.0,127.0 L716.0,126.4 L717.0,125.7 L718.0,125.0 L719.0,124.4 L720.0,123.7 L721.0,123.0 L722.0,122.4 L723.0,121.7 L723.6,121.3 L723.6,222.7 L722.7,222.7 L721.7,222.7 L720.7,222.8 L719.7,222.8 L718.7,222.8 L717.7,222.8 L716.7,222.8 L715.7,222.8 L714.7,222.9 L713.7,222.9 L712.7,222.9 L711.7,222.9 L710.7,223.0 L709.7,223.0 L708.7,223.0 L707.7,223.0 L706.7,223.0 L705.7,223.1 L704.7,223.1 L703.7,223.1 L702.7,223.1 L701.7,223.1 L700.7,223.2 L699.7,223.2 L698.7,223.2 L697.7,223.2 L696.7,223.3 L695.7,223.3 L694.7,223.3 L693.7,223.3 L692.7,223.4 L691.7,223.4 L690.7,223.4 L689.7,223.4 L688.7,223.5 L687.7,223.5 L686.7,223.5 L685.7,223.5 L684.7,223.6 L683.7,223.6 L682.7,223.6 L681.7,223.6 L680.7,223.7 L679.7,223.7 L678.7,223.7 L677.7,223.7 L676.7,223.8 L675.7,223.8 L674.7,223.8 L673.7,223.8 L672.7,223.9 L671.7,223.9 L670.7,223.9 L669.7,223.9 L668.7,224.0 L667.7,224.0 L666.7,224.0 L665.7,224.1 L664.7,224.1 L663.7,224.1 L662.7,224.1 L661.7,224.2 L660.7,224.2 L659.7,224.2 L658.7,224.3 L657.7,224.3 L656.7,224.3 L655.7,224.4 L654.7,224.4 L653.7,224.4 L652.7,224.5 L651.7,224.5 L650.7,224.5 L649.7,224.6 L648.7,224.6 L647.7,224.6 L646.7,224.7 L645.7,224.7 L644.7,224.7 L643.7,224.8 L642.7,224.8 L641.7,224.8 L640.7,224.9 L639.7,224.9 L638.7,224.9 L637.7,225.0 L636.7,225.0 L635.7,225.0 L634.7,225.1 L633.7,225.1 L632.7,225.1 L631.7,225.2 L630.7,225.2 L629.7,225.2 L628.7,225.3 L627.7,225.3 L626.7,225.3 L625.7,225.4 L624.7,225.4 L623.7,225.4 L622.7,225.5 L621.7,225.5 L620.7,225.6 L619.7,225.6 L618.7,225.6 L617.7,225.7 L616.7,225.7 L615.7,225.7 L614.7,225.8 L613.7,225.8 L612.7,225.9 L611.7,225.9 L610.7,225.9 L609.7,226.0 L608.7,226.0 L607.7,226.0 L606.7,226.1 L605.7,226.1 L604.7,226.2 L603.7,226.2 L602.7,226.2 L601.7,226.3 L600.7,226.3 L599.7,226.4 L598.7,226.4 L597.7,226.5 L596.7,226.5 L595.7,226.5 L594.7,226.6 L593.7,226.6 L592.7,226.7 L591.7,226.7 L590.7,226.8 L589.7,226.8 L588.7,226.9 L587.7,226.9 L586.7,227.0 L585.7,227.0 L584.7,227.1 L583.7,227.1 L582.7,227.2 L581.7,227.2 L580.7,227.3 L579.7,227.3 L578.7,227.4 L577.7,227.4 L576.7,227.5 L575.7,227.6 L574.7,227.6 L573.7,227.7 L572.7,227.8 L571.7,227.9 L570.7,227.9 L569.7,228.0 L568.7,228.1 L567.7,228.2 L566.7,228.2 L565.7,228.3 L564.7,228.4 L563.7,228.4 L562.7,228.5 L561.7,228.5 L560.7,228.5 L559.7,228.5 L558.7,228.5 L557.7,228.5 L556.7,228.5 L555.7,228.5 L554.7,228.4 L553.7,228.4 L552.7,228.4 L551.7,228.4 L550.7,228.3 L549.7,228.3 L548.7,228.3 L547.7,228.3 L546.7,228.2 L545.7,228.2 L544.7,228.1 L543.7,228.1 L542.7,228.1 L541.7,228.0 L540.7,228.0 L539.7,228.0 L538.7,227.9 L537.7,227.9 L536.7,227.8 L535.7,227.8 L534.7,227.7 L533.7,227.6 L532.7,227.6 L531.7,227.5 L530.7,227.4 L529.7,227.4 L528.7,227.3 L527.7,227.2 L526.7,227.1 L525.7,227.0 L524.7,226.9 L523.7,226.7 L522.7,226.5 L521.7,226.3 L520.7,226.1 L519.7,225.9 L518.7,225.6 L517.7,225.4 L516.7,225.2 L515.7,225.0 L514.7,224.8 L513.7,224.5 L512.7,224.3 L511.7,224.0 L510.7,223.8 L509.7,223.5 L508.7,223.2 L507.7,222.9 L506.7,222.6 L505.7,222.2 L504.7,221.8 L503.7,221.4 L502.7,220.9 L501.7,220.4 L500.7,220.0 L499.7,219.4 L498.7,218.9 L497.7,218.4 L496.7,217.8 L495.7,217.2 L494.7,216.6 L493.7,215.9 L492.7,215.2 L491.7,214.4 L490.7,213.6 L489.7,212.7 L488.7,211.9 L487.7,211.0 L486.7,210.2 L485.7,209.3 L484.7,208.5 L483.7,207.6 L482.7,206.8 L481.7,205.9 L480.7,205.0 L479.7,204.1 L478.7,203.2 L477.7,202.3 L476.7,201.4 L475.7,200.4 L474.7,199.5 L473.7,198.6 L472.7,197.7 L471.7,196.7 L470.7,195.8 L469.7,194.8 L468.7,193.9 L467.7,192.9 L466.7,192.0 L465.7,191.0 L464.7,190.0 L463.7,189.0 L462.7,188.0 L461.7,187.1 L460.7,186.2 L459.7,185.4 L458.7,184.7 L457.7,184.2 L456.7,183.7 L455.7,183.3 L454.7,182.8 L453.7,182.4 L452.7,182.0 L451.7,181.7 L450.7,181.3 L449.7,181.0 L448.7,180.8 L447.7,180.5 L446.7,180.3 L445.7,180.1 L444.7,180.0 L443.7,179.8 L442.7,179.7 L441.7,179.6 L440.7,179.4 L439.7,179.3 L438.7,179.3 L437.7,179.2 L436.7,179.2 L436.7,179.2 L436.2,179.8 L435.2,181.1 L434.2,182.4 L433.2,183.6 L432.2,184.9 L431.2,186.2 L430.2,187.4 L429.2,188.7 L428.2,190.0 L427.2,191.2 L426.2,192.5Z" fill="#2f82cd" fill-opacity="0.125"/>
<path d="M426.2,52.0 L427.2,55.2 L428.2,58.3 L429.2,61.5 L430.2,64.6 L431.2,67.9 L432.2,71.1 L433.2,74.0 L434.2,76.3 L435.2,78.4 L436.2,80.3 L437.2,82.0 L438.2,83.6 L439.2,85.1 L440.2,86.5 L441.2,87.8 L442.2,89.1 L443.2,90.4 L444.2,91.7 L445.2,92.9 L446.2,94.2 L447.2,95.4 L448.2,96.6 L449.2,97.8 L450.2,99.0 L451.2,100.2 L452.2,101.4 L453.2,102.5 L454.2,103.7 L455.2,104.9 L456.2,106.0 L457.2,107.2 L458.2,108.5 L459.2,109.7 L460.2,110.8 L461.2,111.9 L462.2,112.9 L463.2,113.8 L464.2,114.8 L465.2,115.8 L466.2,116.9 L467.2,118.1 L468.2,119.2 L469.2,120.3 L470.2,121.3 L471.2,122.1 L472.2,123.0 L473.2,123.8 L474.2,124.5 L475.2,125.3 L476.2,125.9 L477.2,126.6 L478.2,127.2 L479.2,127.8 L480.2,128.4 L481.2,128.9 L482.2,129.4 L483.2,129.9 L484.2,130.3 L485.2,130.8 L486.2,131.3 L487.2,131.8 L488.2,132.3 L489.2,132.8 L490.2,133.3 L491.2,133.8 L492.2,134.2 L493.2,134.6 L494.2,134.9 L495.2,135.2 L496.2,135.6 L497.2,135.9 L498.2,136.2 L499.2,136.5 L500.2,136.8 L501.2,137.1 L502.2,137.3 L503.2,137.6 L504.2,137.8 L505.2,138.1 L506.2,138.3 L507.2,138.5 L508.2,138.7 L509.2,138.9 L510.2,139.0 L511.2,139.2 L512.2,139.4 L513.2,139.5 L514.2,139.7 L515.2,139.8 L516.2,139.9 L517.2,140.1 L518.2,140.2 L519.2,140.3 L520.2,140.4 L521.2,140.5 L522.2,140.6 L523.2,140.7 L524.2,140.8 L525.2,140.9 L526.2,141.0 L527.2,141.0 L528.2,141.1 L529.2,141.2 L530.2,141.2 L531.2,141.3 L532.2,141.3 L533.2,141.4 L534.2,141.4 L535.2,141.5 L536.2,141.5 L537.2,141.6 L538.2,141.6 L539.2,141.6 L540.2,141.7 L541.2,141.7 L542.2,141.7 L543.2,141.7 L544.2,141.7 L545.2,141.7 L546.2,141.7 L547.2,141.7 L548.2,141.7 L549.2,141.6 L550.2,141.6 L551.2,141.6 L552.2,141.6 L553.2,141.5 L554.2,141.5 L555.2,141.5 L556.2,141.4 L557.2,141.4 L558.2,141.4 L559.2,141.3 L560.2,141.3 L561.2,141.3 L562.2,141.2 L563.2,141.1 L564.2,141.1 L565.2,141.0 L566.2,141.0 L567.2,140.9 L568.2,140.8 L569.2,140.7 L570.2,140.6 L571.2,140.5 L572.2,140.4 L573.2,140.4 L574.2,140.3 L575.2,140.2 L576.2,140.1 L577.2,139.9 L578.2,139.8 L579.2,139.7 L580.2,139.6 L581.2,139.5 L582.2,139.3 L583.2,139.2 L584.2,139.0 L585.2,138.9 L586.2,138.7 L587.2,138.5 L588.2,138.4 L589.2,138.2 L590.2,138.0 L591.2,137.7 L592.2,137.5 L593.2,137.2 L594.2,136.9 L595.2,136.6 L596.2,136.3 L597.2,135.9 L598.2,135.5 L599.2,135.2 L600.2,134.8 L601.2,134.4 L602.2,134.0 L603.2,133.6 L604.2,133.2 L605.2,132.7 L606.2,132.3 L607.2,131.9 L608.2,131.5 L609.2,131.1 L610.2,130.7 L611.2,130.3 L612.2,129.8 L613.2,129.4 L614.2,128.9 L615.2,128.5 L616.2,128.0 L617.2,127.5 L618.2,127.1 L619.2,126.6 L620.2,126.1 L621.2,125.6 L622.2,125.1 L623.2,124.6 L624.2,124.1 L625.2,123.6 L626.2,123.1 L627.2,122.6 L628.2,122.1 L629.2,121.6 L630.2,121.1 L631.2,120.6 L632.2,120.0 L633.2,119.5 L634.2,118.9 L635.2,118.4 L636.2,117.9 L637.2,117.3 L638.2,116.7 L639.2,116.2 L640.2,115.6 L641.2,115.1 L642.2,114.5 L643.2,113.9 L644.2,113.4 L645.2,112.8 L646.2,112.2 L647.2,111.7 L648.2,111.1 L649.2,110.5 L650.2,109.9 L651.2,109.3 L652.2,108.7 L653.2,108.1 L654.2,107.5 L655.2,106.9 L656.2,106.3 L657.2,105.8 L658.2,105.2 L659.2,104.6 L660.2,104.0 L661.2,103.4 L662.2,102.8 L663.2,102.3 L664.2,101.7 L665.2,101.1 L666.2,100.5 L667.2,100.0 L668.2,99.4 L669.2,98.8 L670.2,98.2 L671.2,97.6 L672.2,96.9 L673.2,96.3 L674.2,95.6 L675.2,95.0 L676.2,94.3 L677.2,93.6 L678.2,92.9 L679.2,92.2 L680.2,91.4 L681.2,90.7 L682.2,89.9 L683.2,89.2 L684.2,88.4 L685.2,87.6 L686.2,86.8 L687.2,85.9 L688.2,85.1 L689.2,84.2 L690.2,83.4 L691.2,82.5 L692.2,81.6 L693.2,80.7 L694.2,79.8 L695.2,78.8 L696.2,77.8 L697.2,76.8 L698.2,75.8 L699.2,74.7 L700.2,73.6 L701.2,72.5 L702.2,71.4 L703.2,70.3 L704.2,69.1 L705.2,68.0 L706.2,66.8 L707.2,65.7 L708.2,64.5 L709.2,63.3 L710.2,62.1 L711.2,60.9 L712.2,59.7 L713.2,58.5 L714.2,57.2 L715.2,56.0 L716.2,54.7 L717.2,53.4 L718.2,52.1 L719.2,50.8 L720.2,49.5 L721.2,48.2 L722.2,46.8 L723.2,45.4 L723.6,44.9 L723.6,208.0 L723.0,208.0 L722.0,208.0 L721.0,208.0 L720.0,208.0 L719.0,208.0 L718.0,208.0 L717.0,208.0 L716.0,208.0 L715.0,208.0 L714.0,208.0 L713.0,208.1 L712.0,208.1 L711.0,208.1 L710.0,208.1 L709.0,208.1 L708.0,208.1 L707.0,208.1 L706.0,208.1 L705.0,208.2 L704.0,208.2 L703.0,208.2 L702.0,208.2 L701.0,208.2 L700.0,208.2 L699.0,208.3 L698.0,208.3 L697.0,208.3 L696.0,208.3 L695.0,208.3 L694.0,208.4 L693.0,208.4 L692.0,208.4 L691.0,208.4 L690.0,208.4 L689.0,208.5 L688.0,208.5 L687.0,208.5 L686.0,208.5 L685.0,208.6 L684.0,208.6 L683.0,208.6 L682.0,208.6 L681.0,208.7 L680.0,208.7 L679.0,208.7 L678.0,208.7 L677.0,208.8 L676.0,208.8 L675.0,208.8 L674.0,208.8 L673.0,208.9 L672.0,208.9 L671.0,208.9 L670.0,208.9 L669.0,209.0 L668.0,209.0 L667.0,209.0 L666.0,209.1 L665.0,209.1 L664.0,209.1 L663.0,209.2 L662.0,209.2 L661.0,209.3 L660.0,209.3 L659.0,209.3 L658.0,209.4 L657.0,209.4 L656.0,209.5 L655.0,209.5 L654.0,209.6 L653.0,209.6 L652.0,209.7 L651.0,209.7 L650.0,209.8 L649.0,209.8 L648.0,209.9 L647.0,209.9 L646.0,210.0 L645.0,210.1 L644.0,210.1 L643.0,210.2 L642.0,210.2 L641.0,210.3 L640.0,210.3 L639.0,210.4 L638.0,210.5 L637.0,210.5 L636.0,210.6 L635.0,210.6 L634.0,210.7 L633.0,210.8 L632.0,210.8 L631.0,210.9 L630.0,210.9 L629.0,211.0 L628.0,211.1 L627.0,211.1 L626.0,211.2 L625.0,211.3 L624.0,211.4 L623.0,211.5 L622.0,211.5 L621.0,211.6 L620.0,211.7 L619.0,211.8 L618.0,211.9 L617.0,212.0 L616.0,212.1 L615.0,212.2 L614.0,212.2 L613.0,212.3 L612.0,212.4 L611.0,212.5 L610.0,212.6 L609.0,212.7 L608.0,212.8 L607.0,212.9 L606.0,213.0 L605.0,213.1 L604.0,213.2 L603.0,213.2 L602.0,213.3 L601.0,213.4 L600.0,213.5 L599.0,213.6 L598.0,213.7 L597.0,213.7 L596.0,213.8 L595.0,213.9 L594.0,214.0 L593.0,214.0 L592.0,214.1 L591.0,214.1 L590.0,214.2 L589.0,214.3 L588.0,214.3 L587.0,214.4 L586.0,214.4 L585.0,214.5 L584.0,214.5 L583.0,214.5 L582.0,214.6 L581.0,214.6 L580.0,214.7 L579.0,214.7 L578.0,214.7 L577.0,214.8 L576.0,214.8 L575.0,214.9 L574.0,214.9 L573.0,215.0 L572.0,215.0 L571.0,215.1 L570.0,215.1 L569.0,215.2 L568.0,215.2 L567.0,215.2 L566.0,215.3 L565.0,215.3 L564.0,215.3 L563.0,215.4 L562.0,215.4 L561.0,215.4 L560.0,215.4 L559.0,215.4 L558.0,215.4 L557.0,215.4 L556.0,215.4 L555.0,215.3 L554.0,215.3 L553.0,215.3 L552.0,215.3 L551.0,215.2 L550.0,215.2 L549.0,215.2 L548.0,215.1 L547.0,215.0 L546.0,215.0 L545.0,214.9 L544.0,214.9 L543.0,214.8 L542.0,214.7 L541.0,214.6 L540.0,214.5 L539.0,214.4 L538.0,214.2 L537.0,214.1 L536.0,213.9 L535.0,213.8 L534.0,213.6 L533.0,213.4 L532.0,213.3 L531.0,213.1 L530.0,212.9 L529.0,212.7 L528.0,212.5 L527.0,212.4 L526.0,212.2 L525.0,212.0 L524.0,211.8 L523.0,211.6 L522.0,211.4 L521.0,211.2 L520.0,210.9 L519.0,210.7 L518.0,210.5 L517.0,210.2 L516.0,210.0 L515.0,209.7 L514.0,209.5 L513.0,209.2 L512.0,208.9 L511.0,208.6 L510.0,208.3 L509.0,208.0 L508.0,207.7 L507.0,207.4 L506.0,207.0 L505.0,206.7 L504.0,206.3 L503.0,205.9 L502.0,205.5 L501.0,205.1 L500.0,204.7 L499.0,204.2 L498.0,203.8 L497.0,203.3 L496.0,202.8 L495.0,202.3 L494.0,201.8 L493.0,201.3 L492.0,200.7 L491.0,200.1 L490.0,199.5 L489.0,198.9 L488.0,198.2 L487.0,197.5 L486.0,196.8 L485.0,196.0 L484.0,195.1 L483.0,194.1 L482.0,193.1 L481.0,192.1 L480.0,191.0 L479.0,189.9 L478.0,188.9 L477.0,187.8 L476.0,186.7 L475.0,185.6 L474.0,184.5 L473.0,183.5 L472.0,182.5 L471.0,181.6 L470.0,180.7 L469.0,179.8 L468.0,179.0 L467.0,178.1 L466.0,177.3 L465.0,176.5 L464.0,175.7 L463.0,174.9 L462.0,174.1 L461.0,173.3 L460.0,172.5 L459.0,171.7 L458.0,170.9 L457.0,170.1 L456.0,169.3 L455.0,168.5 L454.0,167.6 L453.0,166.8 L452.0,165.9 L451.0,165.1 L450.0,164.3 L449.0,163.5 L448.0,162.8 L447.0,162.1 L446.0,161.4 L445.0,160.7 L444.0,160.0 L443.0,159.3 L442.0,158.7 L441.0,158.1 L440.0,157.5 L440.0,157.5 L439.2,157.9 L438.2,158.4 L437.2,158.9 L436.2,159.3 L435.2,159.8 L434.2,160.3 L433.2,160.8 L432.2,161.3 L431.2,161.8 L430.2,162.3 L429.2,162.7 L428.2,163.2 L427.2,163.7 L426.2,164.2Z" fill="#de3793" fill-opacity="0.135"/>
<path d="M426.2,165.0 L427.2,165.0 L428.2,165.1 L429.2,165.1 L430.2,165.2 L431.2,165.3 L432.2,165.4 L433.2,165.5 L434.2,165.7 L435.2,165.8 L436.2,166.1 L437.2,166.4 L438.2,166.7 L439.2,167.1 L440.2,167.6 L441.2,168.1 L442.2,168.5 L443.2,169.1 L444.2,169.7 L445.2,170.4 L446.2,171.1 L447.2,171.8 L448.2,172.4 L449.2,173.1 L450.2,173.7 L451.2,174.3 L452.2,174.9 L453.2,175.5 L454.2,176.1 L455.2,176.8 L456.2,177.6 L457.2,178.5 L458.2,179.4 L459.2,180.3 L460.2,181.2 L461.2,182.1 L462.2,182.9 L463.2,183.7 L464.2,184.5 L465.2,185.3 L466.2,186.1 L467.2,186.8 L468.2,187.4 L469.2,188.1 L470.2,188.6 L471.2,189.2 L472.2,189.7 L473.2,190.2 L474.2,190.7 L475.2,191.2 L476.2,191.7 L477.2,192.3 L478.2,192.8 L479.2,193.4 L480.2,193.9 L481.2,194.4 L482.2,195.0 L483.2,195.5 L484.2,196.0 L485.2,196.6 L486.2,197.1 L487.2,197.5 L488.2,198.0 L489.2,198.5 L490.2,198.9 L491.2,199.4 L492.2,199.8 L493.2,200.3 L494.2,200.7 L495.2,201.1 L496.2,201.5 L497.2,201.9 L498.2,202.3 L499.2,202.7 L500.2,203.0 L501.2,203.4 L502.2,203.8 L503.2,204.1 L504.2,204.4 L505.2,204.8 L506.2,205.1 L507.2,205.3 L508.2,205.6 L509.2,205.9 L510.2,206.1 L511.2,206.3 L512.2,206.6 L513.2,206.8 L514.2,207.0 L515.2,207.2 L516.2,207.4 L517.2,207.6 L518.2,207.8 L519.2,208.0 L520.2,208.2 L521.2,208.3 L522.2,208.5 L523.2,208.7 L524.2,208.8 L525.2,209.0 L526.2,209.1 L527.2,209.3 L528.2,209.4 L529.2,209.5 L530.2,209.6 L531.2,209.8 L532.2,209.9 L533.2,210.0 L534.2,210.1 L535.2,210.2 L536.2,210.3 L537.2,210.3 L538.2,210.4 L539.2,210.5 L540.2,210.6 L541.2,210.7 L542.2,210.8 L543.2,210.9 L544.2,210.9 L545.2,211.0 L546.2,211.0 L547.2,211.0 L548.2,211.0 L549.2,211.0 L550.2,211.0 L551.2,211.0 L552.2,211.0 L553.2,211.0 L554.2,211.0 L555.2,211.0 L556.2,211.0 L557.2,211.0 L558.2,211.0 L559.2,211.0 L560.2,210.9 L561.2,210.9 L562.2,210.9 L563.2,210.8 L564.2,210.8 L565.2,210.8 L566.2,210.7 L567.2,210.7 L568.2,210.6 L569.2,210.6 L570.2,210.5 L571.2,210.4 L572.2,210.3 L573.2,210.3 L574.2,210.2 L575.2,210.1 L576.2,210.0 L577.2,210.0 L578.2,209.9 L579.2,209.9 L580.2,209.8 L581.2,209.8 L582.2,209.7 L583.2,209.7 L584.2,209.6 L585.2,209.6 L586.2,209.5 L587.2,209.5 L588.2,209.4 L589.2,209.4 L590.2,209.3 L591.2,209.2 L592.2,209.1 L593.2,209.0 L594.2,208.9 L595.2,208.8 L596.2,208.7 L597.2,208.6 L598.2,208.5 L599.2,208.4 L600.2,208.2 L601.2,208.1 L602.2,208.0 L603.2,207.8 L604.2,207.7 L605.2,207.5 L606.2,207.4 L607.2,207.2 L608.2,207.1 L609.2,206.9 L610.2,206.7 L611.2,206.6 L612.2,206.4 L613.2,206.2 L614.2,206.1 L615.2,205.9 L616.2,205.7 L617.2,205.6 L618.2,205.4 L619.2,205.2 L620.2,205.0 L621.2,204.9 L622.2,204.7 L623.2,204.5 L624.2,204.4 L625.2,204.2 L626.2,204.0 L627.2,203.9 L628.2,203.7 L629.2,203.5 L630.2,203.4 L631.2,203.2 L632.2,203.1 L633.2,202.9 L634.2,202.8 L635.2,202.6 L636.2,202.4 L637.2,202.3 L638.2,202.1 L639.2,202.0 L640.2,201.8 L641.2,201.7 L642.2,201.5 L643.2,201.4 L644.2,201.2 L645.2,201.0 L646.2,200.9 L647.2,200.7 L648.2,200.6 L649.2,200.4 L650.2,200.2 L651.2,200.1 L652.2,199.9 L653.2,199.8 L654.2,199.6 L655.2,199.4 L656.2,199.3 L657.2,199.1 L658.2,198.9 L659.2,198.8 L660.2,198.6 L661.2,198.5 L662.2,198.3 L663.2,198.1 L664.2,198.0 L665.2,197.8 L666.2,197.6 L667.2,197.4 L668.2,197.3 L669.2,197.1 L670.2,196.9 L671.2,196.8 L672.2,196.6 L673.2,196.4 L674.2,196.2 L675.2,196.0 L676.2,195.9 L677.2,195.7 L678.2,195.5 L679.2,195.3 L680.2,195.1 L681.2,195.0 L682.2,194.8 L683.2,194.6 L684.2,194.4 L685.2,194.2 L686.2,194.0 L687.2,193.8 L688.2,193.6 L689.2,193.4 L690.2,193.3 L691.2,193.1 L692.2,192.9 L693.2,192.7 L694.2,192.5 L695.2,192.3 L696.2,192.1 L697.2,191.9 L698.2,191.7 L699.2,191.5 L700.2,191.3 L701.2,191.1 L702.2,190.9 L703.2,190.7 L704.2,190.5 L705.2,190.3 L706.2,190.1 L707.2,189.9 L708.2,189.7 L709.2,189.5 L710.2,189.3 L711.2,189.1 L712.2,188.9 L713.2,188.7 L714.2,188.5 L715.2,188.3 L716.2,188.1 L717.2,187.9 L718.2,187.6 L719.2,187.4 L720.2,187.2 L721.2,187.0 L722.2,186.8 L723.2,186.6 L723.6,186.5" fill="none" stroke="#3f86b6" stroke-width="1.25"/>
<path d="M426.2,121.3 L427.2,121.5 L428.2,121.7 L429.2,122.0 L430.2,122.2 L431.2,122.5 L432.2,122.8 L433.2,123.1 L434.2,123.4 L435.2,123.7 L436.2,124.0 L437.2,124.3 L438.2,124.7 L439.2,125.1 L440.2,125.6 L441.2,126.1 L442.2,126.8 L443.2,127.5 L444.2,128.3 L445.2,129.1 L446.2,129.9 L447.2,130.8 L448.2,131.6 L449.2,132.5 L450.2,133.4 L451.2,134.4 L452.2,135.4 L453.2,136.4 L454.2,137.5 L455.2,138.5 L456.2,139.5 L457.2,140.5 L458.2,141.5 L459.2,142.5 L460.2,143.5 L461.2,144.6 L462.2,145.6 L463.2,146.6 L464.2,147.5 L465.2,148.5 L466.2,149.4 L467.2,150.3 L468.2,151.2 L469.2,152.1 L470.2,153.0 L471.2,153.9 L472.2,154.8 L473.2,155.7 L474.2,156.7 L475.2,157.7 L476.2,158.7 L477.2,159.7 L478.2,160.7 L479.2,161.6 L480.2,162.5 L481.2,163.3 L482.2,164.1 L483.2,164.8 L484.2,165.6 L485.2,166.3 L486.2,167.0 L487.2,167.6 L488.2,168.3 L489.2,169.0 L490.2,169.6 L491.2,170.3 L492.2,170.9 L493.2,171.6 L494.2,172.2 L495.2,172.8 L496.2,173.4 L497.2,174.0 L498.2,174.5 L499.2,175.1 L500.2,175.6 L501.2,176.1 L502.2,176.6 L503.2,177.1 L504.2,177.6 L505.2,178.0 L506.2,178.5 L507.2,178.9 L508.2,179.3 L509.2,179.7 L510.2,180.1 L511.2,180.4 L512.2,180.8 L513.2,181.1 L514.2,181.4 L515.2,181.7 L516.2,182.0 L517.2,182.3 L518.2,182.5 L519.2,182.8 L520.2,183.0 L521.2,183.3 L522.2,183.5 L523.2,183.7 L524.2,183.9 L525.2,184.2 L526.2,184.3 L527.2,184.5 L528.2,184.7 L529.2,184.9 L530.2,185.0 L531.2,185.2 L532.2,185.3 L533.2,185.5 L534.2,185.6 L535.2,185.8 L536.2,185.9 L537.2,186.0 L538.2,186.1 L539.2,186.2 L540.2,186.2 L541.2,186.3 L542.2,186.3 L543.2,186.3 L544.2,186.4 L545.2,186.4 L546.2,186.4 L547.2,186.5 L548.2,186.5 L549.2,186.5 L550.2,186.5 L551.2,186.5 L552.2,186.5 L553.2,186.5 L554.2,186.5 L555.2,186.5 L556.2,186.5 L557.2,186.5 L558.2,186.5 L559.2,186.5 L560.2,186.5 L561.2,186.5 L562.2,186.4 L563.2,186.4 L564.2,186.3 L565.2,186.2 L566.2,186.2 L567.2,186.1 L568.2,186.0 L569.2,185.9 L570.2,185.8 L571.2,185.7 L572.2,185.6 L573.2,185.5 L574.2,185.4 L575.2,185.2 L576.2,185.1 L577.2,185.0 L578.2,184.9 L579.2,184.8 L580.2,184.7 L581.2,184.6 L582.2,184.5 L583.2,184.4 L584.2,184.3 L585.2,184.3 L586.2,184.2 L587.2,184.1 L588.2,184.0 L589.2,183.9 L590.2,183.8 L591.2,183.7 L592.2,183.5 L593.2,183.4 L594.2,183.3 L595.2,183.1 L596.2,183.0 L597.2,182.8 L598.2,182.7 L599.2,182.5 L600.2,182.3 L601.2,182.2 L602.2,182.0 L603.2,181.8 L604.2,181.6 L605.2,181.4 L606.2,181.2 L607.2,181.0 L608.2,180.8 L609.2,180.6 L610.2,180.4 L611.2,180.2 L612.2,180.0 L613.2,179.8 L614.2,179.6 L615.2,179.4 L616.2,179.2 L617.2,179.0 L618.2,178.8 L619.2,178.6 L620.2,178.4 L621.2,178.2 L622.2,178.0 L623.2,177.7 L624.2,177.5 L625.2,177.3 L626.2,177.1 L627.2,176.9 L628.2,176.7 L629.2,176.5 L630.2,176.3 L631.2,176.1 L632.2,175.9 L633.2,175.7 L634.2,175.5 L635.2,175.3 L636.2,175.1 L637.2,174.9 L638.2,174.6 L639.2,174.4 L640.2,174.2 L641.2,174.0 L642.2,173.8 L643.2,173.5 L644.2,173.3 L645.2,173.1 L646.2,172.9 L647.2,172.7 L648.2,172.4 L649.2,172.2 L650.2,172.0 L651.2,171.8 L652.2,171.5 L653.2,171.3 L654.2,171.1 L655.2,170.8 L656.2,170.6 L657.2,170.4 L658.2,170.1 L659.2,169.9 L660.2,169.7 L661.2,169.4 L662.2,169.2 L663.2,169.0 L664.2,168.7 L665.2,168.5 L666.2,168.3 L667.2,168.0 L668.2,167.8 L669.2,167.5 L670.2,167.3 L671.2,167.1 L672.2,166.8 L673.2,166.6 L674.2,166.3 L675.2,166.1 L676.2,165.8 L677.2,165.6 L678.2,165.3 L679.2,165.1 L680.2,164.8 L681.2,164.6 L682.2,164.3 L683.2,164.1 L684.2,163.8 L685.2,163.6 L686.2,163.3 L687.2,163.1 L688.2,162.8 L689.2,162.6 L690.2,162.3 L691.2,162.0 L692.2,161.8 L693.2,161.5 L694.2,161.2 L695.2,161.0 L696.2,160.7 L697.2,160.4 L698.2,160.2 L699.2,159.9 L700.2,159.6 L701.2,159.3 L702.2,159.1 L703.2,158.8 L704.2,158.5 L705.2,158.2 L706.2,157.9 L707.2,157.7 L708.2,157.4 L709.2,157.1 L710.2,156.8 L711.2,156.5 L712.2,156.2 L713.2,155.9 L714.2,155.6 L715.2,155.3 L716.2,155.0 L717.2,154.7 L718.2,154.4 L719.2,154.1 L720.2,153.8 L721.2,153.5 L722.2,153.2 L723.2,152.9 L723.6,152.8" fill="none" stroke="#c13aa4" stroke-width="1.25"/>
<line x1="411.4" y1="177.5" x2="738.7" y2="177.5" stroke="#222" stroke-width="1.3" stroke-dasharray="4.1 3.84"/>
<path d="M411.4,36 V237.6 H738.7" fill="none" stroke="#777" stroke-width="1"/>
<line x1="409.79999999999995" y1="41.5" x2="411.4" y2="41.5" stroke="#777" stroke-width="0.7"/>
<text x="408.5" y="44.9" text-anchor="end" class="tk">2.5</text>
<line x1="409.79999999999995" y1="87" x2="411.4" y2="87" stroke="#777" stroke-width="0.7"/>
<text x="408.5" y="90.4" text-anchor="end" class="tk">2.0</text>
<line x1="409.79999999999995" y1="132.3" x2="411.4" y2="132.3" stroke="#777" stroke-width="0.7"/>
<text x="408.5" y="135.70000000000002" text-anchor="end" class="tk">1.5</text>
<line x1="409.79999999999995" y1="177.5" x2="411.4" y2="177.5" stroke="#777" stroke-width="0.7"/>
<text x="408.5" y="180.9" text-anchor="end" class="tk">1.0</text>
<line x1="409.79999999999995" y1="222.8" x2="411.4" y2="222.8" stroke="#777" stroke-width="0.7"/>
<text x="408.5" y="226.20000000000002" text-anchor="end" class="tk">0.5</text>
<line x1="426.2" y1="237.6" x2="426.2" y2="239.6" stroke="#777" stroke-width="0.7"/>
<text x="426.2" y="248.6" text-anchor="middle" class="tk">0</text>
<line x1="544.2" y1="237.6" x2="544.2" y2="239.6" stroke="#777" stroke-width="0.7"/>
<text x="544.2" y="248.6" text-anchor="middle" class="tk">500</text>
<line x1="662.5" y1="237.6" x2="662.5" y2="239.6" stroke="#777" stroke-width="0.7"/>
<text x="662.5" y="248.6" text-anchor="middle" class="tk">1000</text>
<text x="591.2" y="15.7" text-anchor="middle" class="title">Model 2</text>
<text x="474.8" y="65.8" class="ann" xml:space="preserve">P for overall = 0.0008</text>
<text x="474.8" y="81.3" class="ann" xml:space="preserve">P for nonlinear =  0.0253</text>
<text x="574.6" y="263.3" text-anchor="middle" class="axl">MVPA (minutes/week)</text>
<text transform="translate(386.0,147.5) rotate(-90)" text-anchor="middle" class="ayl" style="font-size:10.5px">OR (95%CI)</text>
<!-- legend -->
<text x="749.6" y="128.7" class="lgt">ST_0</text>
<rect x="749.7" y="131.7" width="10.7" height="9.2" fill="#2f82cd" fill-opacity="0.125"/>
<line x1="750.6" y1="136.6" x2="759.6" y2="136.6" stroke="#3f86b6" stroke-width="0.9"/>
<rect x="749.7" y="142.6" width="10.7" height="9.2" fill="#de3793" fill-opacity="0.135"/>
<line x1="750.6" y1="147.3" x2="759.6" y2="147.3" stroke="#c13aa4" stroke-width="0.9"/>
<text x="765.8" y="139.4" class="lgl">LST</text>
<text x="765.8" y="150.2" class="lgl">HST</text>
</svg>
</body></html>
